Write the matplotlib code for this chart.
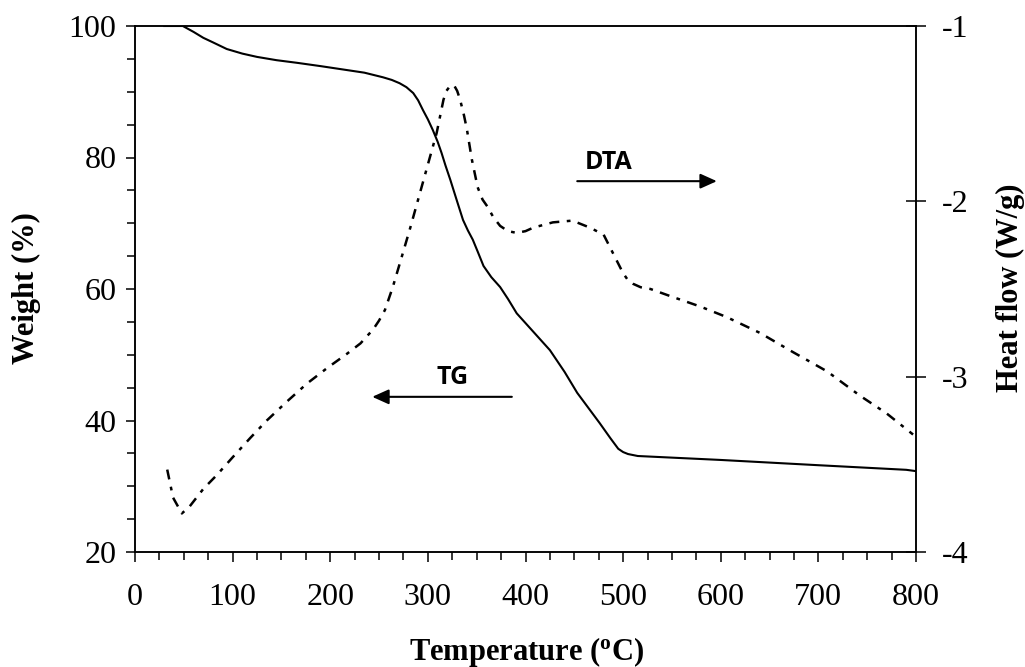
import matplotlib
matplotlib.use("Agg")
import matplotlib.pyplot as plt
from matplotlib.ticker import MultipleLocator, FixedLocator

plt.rcParams['axes.unicode_minus'] = False

# TG curve (weight %, left axis)
tg_temp = [30, 49, 60, 70, 80, 94, 110, 125, 145, 166, 190, 217, 235, 254, 263, 271, 278,
           285, 290, 295, 300, 305, 310, 314, 318, 323, 330, 336, 341, 346, 351, 357, 365,
           374, 382, 391, 408, 425, 440, 453, 465, 476, 487, 495, 500, 505, 515, 600, 700,
           790, 800]
tg_weight = [100, 100, 99.1, 98.2, 97.5, 96.5, 95.8, 95.3, 94.8, 94.4, 93.9, 93.3, 92.9,
             92.2, 91.8, 91.3, 90.7, 89.8, 88.7, 87.2, 85.8, 84.2, 82.4, 80.7, 78.8, 76.6,
             73.3, 70.5, 68.9, 67.5, 65.7, 63.5, 61.8, 60.3, 58.5, 56.3, 53.5, 50.7, 47.4,
             44.2, 41.8, 39.6, 37.3, 35.7, 35.2, 34.9, 34.6, 34.0, 33.2, 32.5, 32.3]

# DTA curve (heat flow W/g, right axis)
dta_temp = [33, 39, 48, 56, 70, 84, 100, 118, 135, 156, 176, 197, 217, 231, 244, 250, 256,
            264, 272, 282, 292, 302, 309, 316, 319, 323, 327, 330, 333, 337, 340, 345, 351,
            356, 361, 367, 374, 382, 391, 400, 408, 428, 448, 466, 480, 490, 500, 505, 510,
            518, 528, 548, 579, 606, 640, 674, 709, 743, 770, 797]
dta_heat = [-3.53, -3.69, -3.78, -3.74, -3.64, -3.56, -3.46, -3.35, -3.25, -3.14, -3.04,
            -2.95, -2.87, -2.81, -2.73, -2.68, -2.62, -2.49, -2.34, -2.15, -1.95, -1.75,
            -1.61, -1.42, -1.37, -1.34, -1.34, -1.37, -1.42, -1.51, -1.59, -1.76, -1.92,
            -1.99, -2.03, -2.09, -2.14, -2.17, -2.18, -2.17, -2.15, -2.12, -2.11, -2.15,
            -2.19, -2.30, -2.41, -2.45, -2.47, -2.49, -2.50, -2.54, -2.60, -2.66, -2.75,
            -2.86, -2.97, -3.11, -3.21, -3.33]

x_ticks = [0, 100, 200, 300, 400, 500, 600, 700, 800]
left_ticks = [20, 40, 60, 80, 100]
right_ticks = [-4, -3, -2, -1]

serif = 'Liberation Serif'

fig = plt.figure(figsize=(10.25, 6.67), dpi=100)
ax = fig.add_axes([135/1025, 1-552/667, (916-135)/1025, (552-26)/667])
ax2 = ax.twinx()

ax.plot(tg_temp, tg_weight, color='black', lw=1.5, solid_joinstyle='round')
ax2.plot(dta_temp, dta_heat, color='black', lw=1.8, linestyle=(0, (4, 3, 1.5, 3)))

ax.set_xlim(0, 800)
ax.set_ylim(20, 100)
ax2.set_ylim(-4, -1)

ax.xaxis.set_major_locator(FixedLocator(x_ticks))
ax.xaxis.set_minor_locator(MultipleLocator(25))
ax.yaxis.set_major_locator(FixedLocator(left_ticks))
ax.yaxis.set_minor_locator(MultipleLocator(5))
ax2.yaxis.set_major_locator(FixedLocator(right_ticks))

for a in (ax, ax2):
    for s in a.spines.values():
        s.set_linewidth(1.1)

ax.tick_params(axis='x', which='major', direction='out', length=7.5, width=1.1,
               pad=15, labelsize=23, top=False)
ax.tick_params(axis='x', which='minor', direction='out', length=6, width=1.1, top=False)
ax.tick_params(axis='y', which='major', direction='out', length=6.5, width=1.1,
               pad=7, labelsize=23, right=False)
ax.tick_params(axis='y', which='minor', direction='out', length=5.5, width=1.1, right=False)
ax2.tick_params(axis='y', which='major', direction='inout', length=15, width=1.1,
                pad=11, labelsize=23)

ax.set_xticklabels([str(t) for t in x_ticks])
ax.set_yticklabels([str(t) for t in left_ticks])
ax2.set_yticklabels([str(t) for t in right_ticks])
for lbl in ax.get_xticklabels() + ax.get_yticklabels() + ax2.get_yticklabels():
    lbl.set_fontfamily(serif)

fig.text(527/1025, 1-652/667, r'Temperature ($\mathregular{^o}$C)', family=serif,
         fontweight='bold', fontsize=22, ha='center', va='center')
fig.text(26/1025, 1-288/667, 'Weight (%)', family=serif, fontweight='bold', fontsize=22,
         rotation=90, ha='center', va='center')
fig.text(1010/1025, 1-288/667, 'Heat flow (W/g)', family=serif, fontweight='bold',
         fontsize=22, rotation=90, ha='center', va='center')

ax.text(485, 79.3, 'DTA', family='Open Sans', fontweight='bold', fontsize=18,
        ha='center', va='center')
ax.annotate('', xy=(596, 76.4), xytext=(453, 76.4),
            arrowprops=dict(arrowstyle='-|>,head_length=1.0,head_width=0.45',
                            color='black', lw=1.5, shrinkA=0, shrinkB=0))
ax.text(325, 46.5, 'TG', family='Open Sans', fontweight='bold', fontsize=18,
        ha='center', va='center')
ax.annotate('', xy=(243, 43.6), xytext=(386, 43.6),
            arrowprops=dict(arrowstyle='-|>,head_length=1.0,head_width=0.45',
                            color='black', lw=1.5, shrinkA=0, shrinkB=0))

fig.savefig('out.png', dpi=100)
